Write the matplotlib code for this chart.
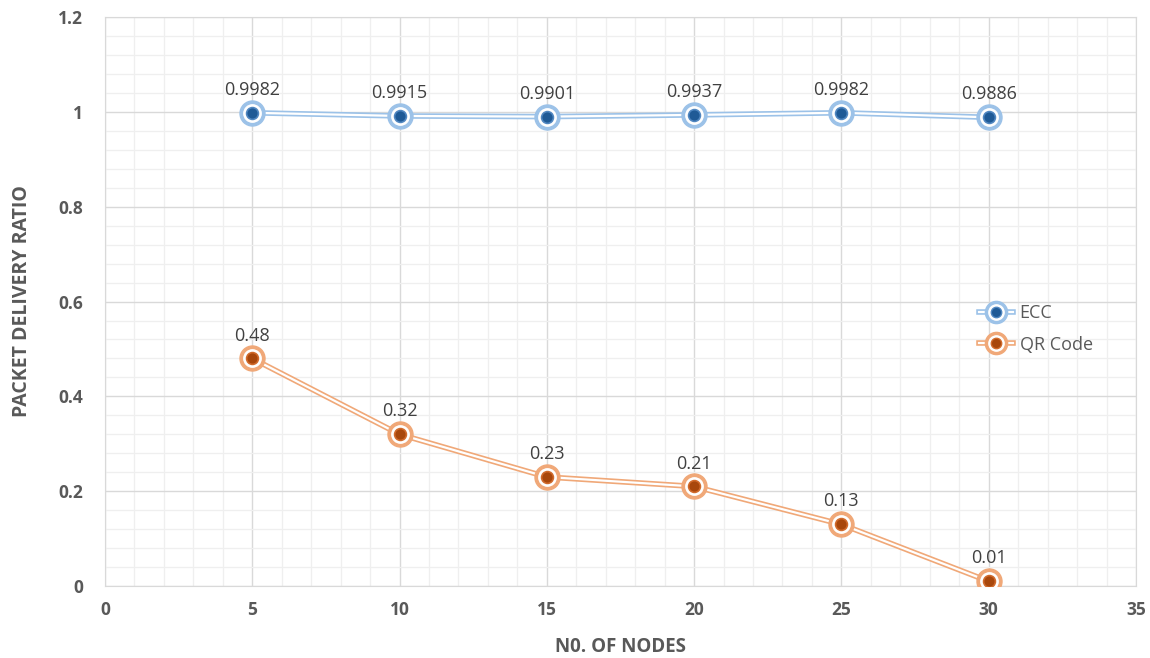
import matplotlib
matplotlib.use("Agg")
import matplotlib.pyplot as plt
from matplotlib.ticker import MultipleLocator
from matplotlib.lines import Line2D

nodes = [5, 10, 15, 20, 25, 30]
ecc = [0.9982, 0.9915, 0.9901, 0.9937, 0.9982, 0.9886]
qr = [0.48, 0.32, 0.23, 0.21, 0.13, 0.01]
ecc_labels = ["0.9982", "0.9915", "0.9901", "0.9937", "0.9982", "0.9886"]
qr_labels = ["0.48", "0.32", "0.23", "0.21", "0.13", "0.01"]

plt.rcParams['font.family'] = ['Open Sans', 'DejaVu Sans']

fig = plt.figure(figsize=(11.5, 6.58), dpi=100)
ax = fig.add_axes([0.0913, 0.1094, 0.8965, 0.8646])

ax.set_xlim(0, 35)
ax.set_ylim(0, 1.2)
ax.xaxis.set_major_locator(MultipleLocator(5))
ax.xaxis.set_minor_locator(MultipleLocator(1))
ax.yaxis.set_major_locator(MultipleLocator(0.2))
ax.yaxis.set_minor_locator(MultipleLocator(0.04))
ax.grid(which='major', color='#d9d9d9', linewidth=1.0)
ax.grid(which='minor', color='#efefef', linewidth=0.9)
ax.set_axisbelow(True)
for s in ax.spines.values():
    s.set_color('#d9d9d9')
ax.tick_params(which='both', length=0)
ax.tick_params(axis='both', labelsize=12.5, labelcolor='#595959')

ax.set_yticks([0, 0.2, 0.4, 0.6, 0.8, 1.0, 1.2])
ax.set_yticklabels(["0", "0.2", "0.4", "0.6", "0.8", "1", "1.2"], fontweight='bold')
ax.set_xticks([0, 5, 10, 15, 20, 25, 30, 35])
ax.set_xticklabels(["0", "5", "10", "15", "20", "25", "30", "35"], fontweight='bold')
ax.tick_params(axis='y', pad=16)
ax.tick_params(axis='x', pad=11)


def draw_series(x, y, light, mid, dark):
    ax.plot(x, y, color=light, lw=4.0, solid_capstyle='round', zorder=3)
    ax.plot(x, y, color='white', lw=1.6, zorder=3.1)
    ax.plot(x, y, ls='none', marker='o', ms=18, mfc=light, mec=light, zorder=4)
    ax.plot(x, y, ls='none', marker='o', ms=12.5, mfc='white', mec='white', zorder=4.1)
    ax.plot(x, y, ls='none', marker='o', ms=8.5, mfc=dark, mec=mid, mew=1.2, zorder=4.2)
    h1 = Line2D([0], [0], color=light, lw=4.0)
    h2 = Line2D([0], [0], color='white', lw=1.6)
    h3 = Line2D([0], [0], ls='none', marker='o', ms=16, mfc=light, mec=light)
    h4 = Line2D([0], [0], ls='none', marker='o', ms=11, mfc='white', mec='white')
    h5 = Line2D([0], [0], ls='none', marker='o', ms=7.5, mfc=dark, mec=mid, mew=1)
    return (h1, h2, h3, h4, h5)


he = draw_series(nodes, ecc, '#9cc2e8', '#4f86c0', '#1f5a96')
hq = draw_series(nodes, qr, '#f0a878', '#d0692a', '#a8470c')

for x, y, t in zip(nodes, ecc, ecc_labels):
    ax.annotate(t, (x, y), xytext=(0, 10), textcoords='offset points',
                ha='center', va='bottom', fontsize=13, color='#404040')
for x, y, t in zip(nodes, qr, qr_labels):
    ax.annotate(t, (x, y), xytext=(0, 10), textcoords='offset points',
                ha='center', va='bottom', fontsize=13, color='#404040')

leg = ax.legend([he, hq], ['ECC', 'QR Code'], loc='upper left',
                bbox_to_anchor=(0.832, 0.524), frameon=False, fontsize=13,
                labelcolor='#595959', handlelength=1.9, handletextpad=0.35,
                labelspacing=0.75)

ax.set_xlabel('N0. OF NODES', fontsize=13.5, fontweight='bold', color='#595959', labelpad=13)
ax.set_ylabel('PACKET DELIVERY RATIO', fontsize=14, fontweight='bold', color='#595959', labelpad=19)

fig.savefig('out.png', dpi=100)
